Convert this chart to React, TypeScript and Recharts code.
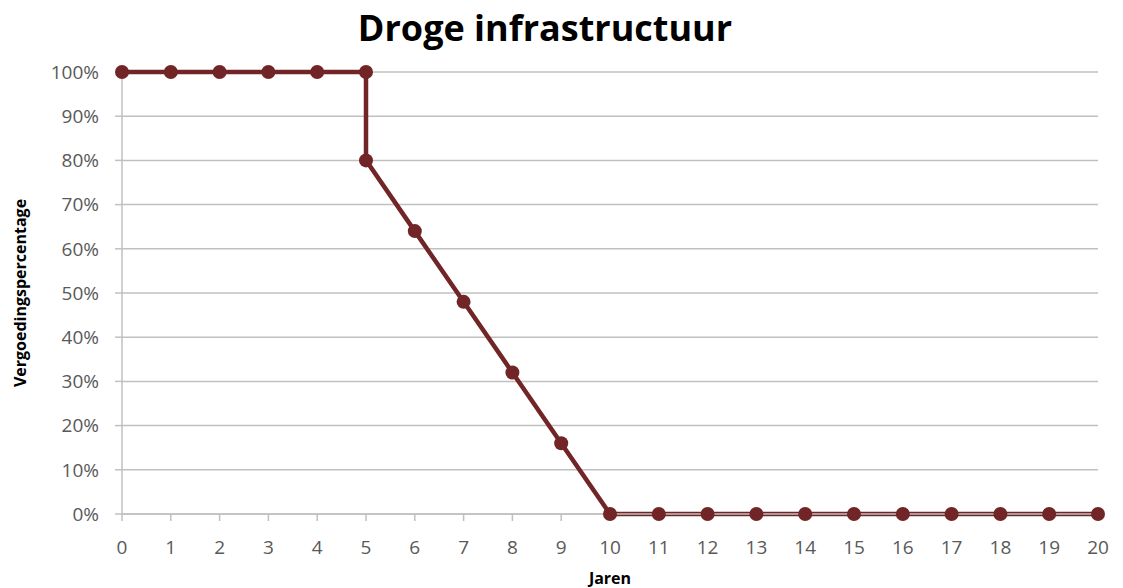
import { LineChart, Line, XAxis, YAxis, CartesianGrid } from "recharts";

const years = [0, 1, 2, 3, 4, 5, 5, 6, 7, 8, 9, 10, 11, 12, 13, 14, 15, 16, 17, 18, 19, 20];
const percentages = [100, 100, 100, 100, 100, 100, 80, 64, 48, 32, 16, 0, 0, 0, 0, 0, 0, 0, 0, 0, 0, 0];
const xTicks = Array.from({ length: 21 }, (_, i) => i);
const yTicks = [0, 10, 20, 30, 40, 50, 60, 70, 80, 90, 100];

const data = years.map((jaar, i) => ({ jaar, pct: percentages[i] }));

const font = "'Open Sans', 'Liberation Sans', sans-serif";
const lineColor = "#722526";
const gridColor = "#c0c0c0";

export default function App() {
  return (
    <div style={{ position: "absolute", left: 0, top: 0, width: 1123, height: 588, background: "#fff", fontFamily: font }}>
      <div
        style={{
          position: "absolute",
          top: 3,
          left: 0,
          width: 1090,
          textAlign: "center",
          fontSize: 36,
          fontWeight: 700,
          color: "#000",
        }}
      >
        Droge infrastructuur
      </div>
      <LineChart
        width={1123}
        height={588}
        data={data}
        margin={{ top: 72, right: 25, bottom: 0, left: 38 }}
      >
        <CartesianGrid vertical={false} stroke={gridColor} strokeWidth={1.5} />
        <XAxis
          dataKey="jaar"
          type="number"
          domain={[0, 20]}
          ticks={xTicks}
          interval={0}
          stroke={gridColor}
          strokeWidth={1.5}
          tickSize={7}
          tickMargin={20}
          tick={{ fill: "#595959", fontSize: 19, fontFamily: font }}
          height={74}
          label={{
            value: "Jaren",
            position: "insideBottom",
            offset: 4,
            style: { fill: "#000", fontSize: 16, fontWeight: 700, fontFamily: font },
          }}
        />
        <YAxis
          type="number"
          domain={[0, 100]}
          ticks={yTicks}
          interval={0}
          tickFormatter={(v: number) => `${v}%`}
          stroke={gridColor}
          strokeWidth={1.5}
          tickSize={7}
          tickMargin={16}
          tick={{ fill: "#595959", fontSize: 19, fontFamily: font }}
          width={84}
          label={{
            value: "Vergoedingspercentage",
            angle: -90,
            position: "insideLeft",
            offset: -18,
            style: { fill: "#000", fontSize: 16, fontWeight: 700, fontFamily: font, textAnchor: "middle" },
          }}
        />
        <Line
          dataKey="pct"
          type="linear"
          stroke={lineColor}
          strokeWidth={4.5}
          dot={{ r: 7, fill: lineColor, stroke: lineColor, strokeWidth: 0 }}
          activeDot={false}
          isAnimationActive={false}
        />
      </LineChart>
    </div>
  );
}
